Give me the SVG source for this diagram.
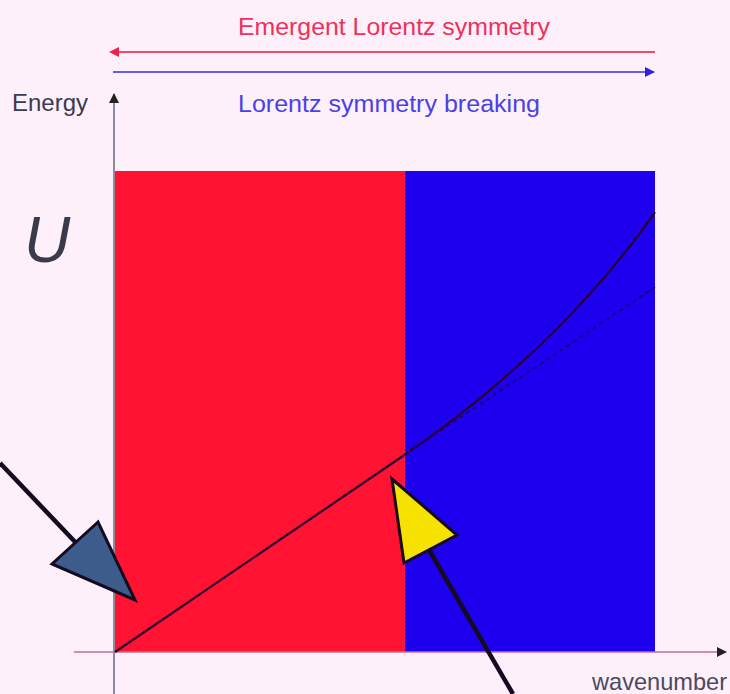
<svg xmlns="http://www.w3.org/2000/svg" width="730" height="694" viewBox="0 0 730 694">
<defs>
<style>
.lbl{font-family:"Liberation Sans",Arial,sans-serif;}
.ptr{stroke:#150a20;stroke-width:4.5;fill:none;}
.tri{stroke:#150a20;stroke-width:3;stroke-linejoin:miter;}
</style>
<marker id="hr" viewBox="0 0 10 10" refX="1" refY="5" markerWidth="16" markerHeight="10" markerUnits="userSpaceOnUse" orient="auto"><path d="M10,0 L0,5 L10,10 z" fill="#f0204a" transform="rotate(180 5 5)"/></marker>
<marker id="hb" viewBox="0 0 10 10" refX="9" refY="5" markerWidth="16" markerHeight="10" markerUnits="userSpaceOnUse" orient="auto"><path d="M0,0 L10,5 L0,10 z" fill="#3020e0"/></marker>
<marker id="ha" viewBox="0 0 10 10" refX="9" refY="5" markerWidth="12" markerHeight="10" markerUnits="userSpaceOnUse" orient="auto"><path d="M0,0 L10,5 L0,10 z" fill="#222"/></marker>
</defs>
<rect x="0" y="0" width="730" height="694" fill="#fdf0fa"/>
<g id="regions">
<rect id="red-region" x="115" y="171" width="290" height="481" fill="#ff1232"/>
<rect id="blue-region" x="405" y="171" width="250" height="481" fill="#1c00ee"/>
<line x1="405" y1="171" x2="405" y2="652" stroke="#a050c0" stroke-width="1" stroke-dasharray="2 2" opacity="0.7"/>
</g>
<g id="connectors">
<line x1="655" y1="52" x2="118" y2="52" stroke="#f04a6e" stroke-width="2" marker-end="url(#hr)"/>
<line x1="113" y1="72" x2="654" y2="72" stroke="#6060f0" stroke-width="2" marker-end="url(#hb)"/>
<line x1="114" y1="694" x2="114" y2="94" stroke="#6a6a80" stroke-width="1.5" marker-end="url(#ha)"/>
<line x1="74" y1="652" x2="726" y2="652" stroke="#c07088" stroke-width="1.5" marker-end="url(#ha)"/>
<path d="M115,652 L400,458 C480,404 580,320 655,212" fill="none" stroke="#2a0030" stroke-width="2.2"/>
<path d="M400,458 L655,287" fill="none" stroke="#200060" stroke-width="1.5" stroke-dasharray="4 4"/>
<path class="ptr" d="M0,463 L78,545"/>
<polygon class="tri" points="98,522 52,564 135,600" fill="#3d5c8c"/>
<path class="ptr" d="M428,548 L513,694"/>
<polygon class="tri" points="392,479 457,535 404,563" fill="#f6e200"/>
</g>
<g id="labels">
<text class="lbl" x="238" y="35" font-size="23" fill="#f0305a" textLength="312" lengthAdjust="spacingAndGlyphs">Emergent Lorentz symmetry</text>
<text class="lbl" x="238" y="112" font-size="23" fill="#4a40e8" textLength="302" lengthAdjust="spacingAndGlyphs">Lorentz symmetry breaking</text>
<text class="lbl" x="12" y="111" font-size="23" fill="#3a3a50" textLength="76" lengthAdjust="spacingAndGlyphs">Energy</text>
<text class="lbl" x="592" y="690" font-size="24" fill="#4a4a60" textLength="135" lengthAdjust="spacingAndGlyphs">wavenumber</text>
<text class="lbl" x="24" y="262" font-size="64" font-style="italic" fill="#3a3a4a">U</text>
</g>
</svg>
